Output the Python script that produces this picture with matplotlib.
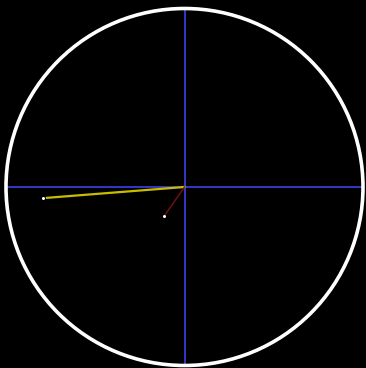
import numpy as np
import matplotlib
matplotlib.use("Agg")
import matplotlib.pyplot as plt

# phasors: magnitude (fraction of circle radius) and angle in degrees
names = ["a", "b"]
mags = [0.797, 0.20]
angles = [184.5, 235.0]
colors = ["#c8bd00", "#7a1010"]

fig = plt.figure(figsize=(3.66, 3.68), dpi=100, facecolor="black")
ax = fig.add_axes([0, 0, 1, 1])
ax.set_facecolor("black")

r_px = 178.5
cx, cy = 184.5, 181.0
ax.set_xlim(-cx / r_px, (366 - cx) / r_px)
ax.set_ylim(-cy / r_px, (368 - cy) / r_px)
ax.axis("off")

# crosshair
ax.plot([-1, 1], [0, 0], color="#3338c8", lw=1.4, zorder=1)
ax.plot([0, 0], [-1, 1], color="#3338c8", lw=1.4, zorder=1)

circ = plt.Circle((0, 0), 1.0, fill=False, color="white", lw=2.6, zorder=3)
ax.add_patch(circ)

for m, a, c in zip(mags, angles, colors):
    x = m * np.cos(np.radians(a))
    y = m * np.sin(np.radians(a))
    ax.plot([0, x * 0.97], [0, y * 0.97], color=c, lw=1.6 if c == "#c8bd00" else 1.0, zorder=2)
    ax.plot(x, y, "o", color="white", ms=2.2, mec="none", zorder=4)

fig.savefig("out.png", dpi=100, facecolor="black")
